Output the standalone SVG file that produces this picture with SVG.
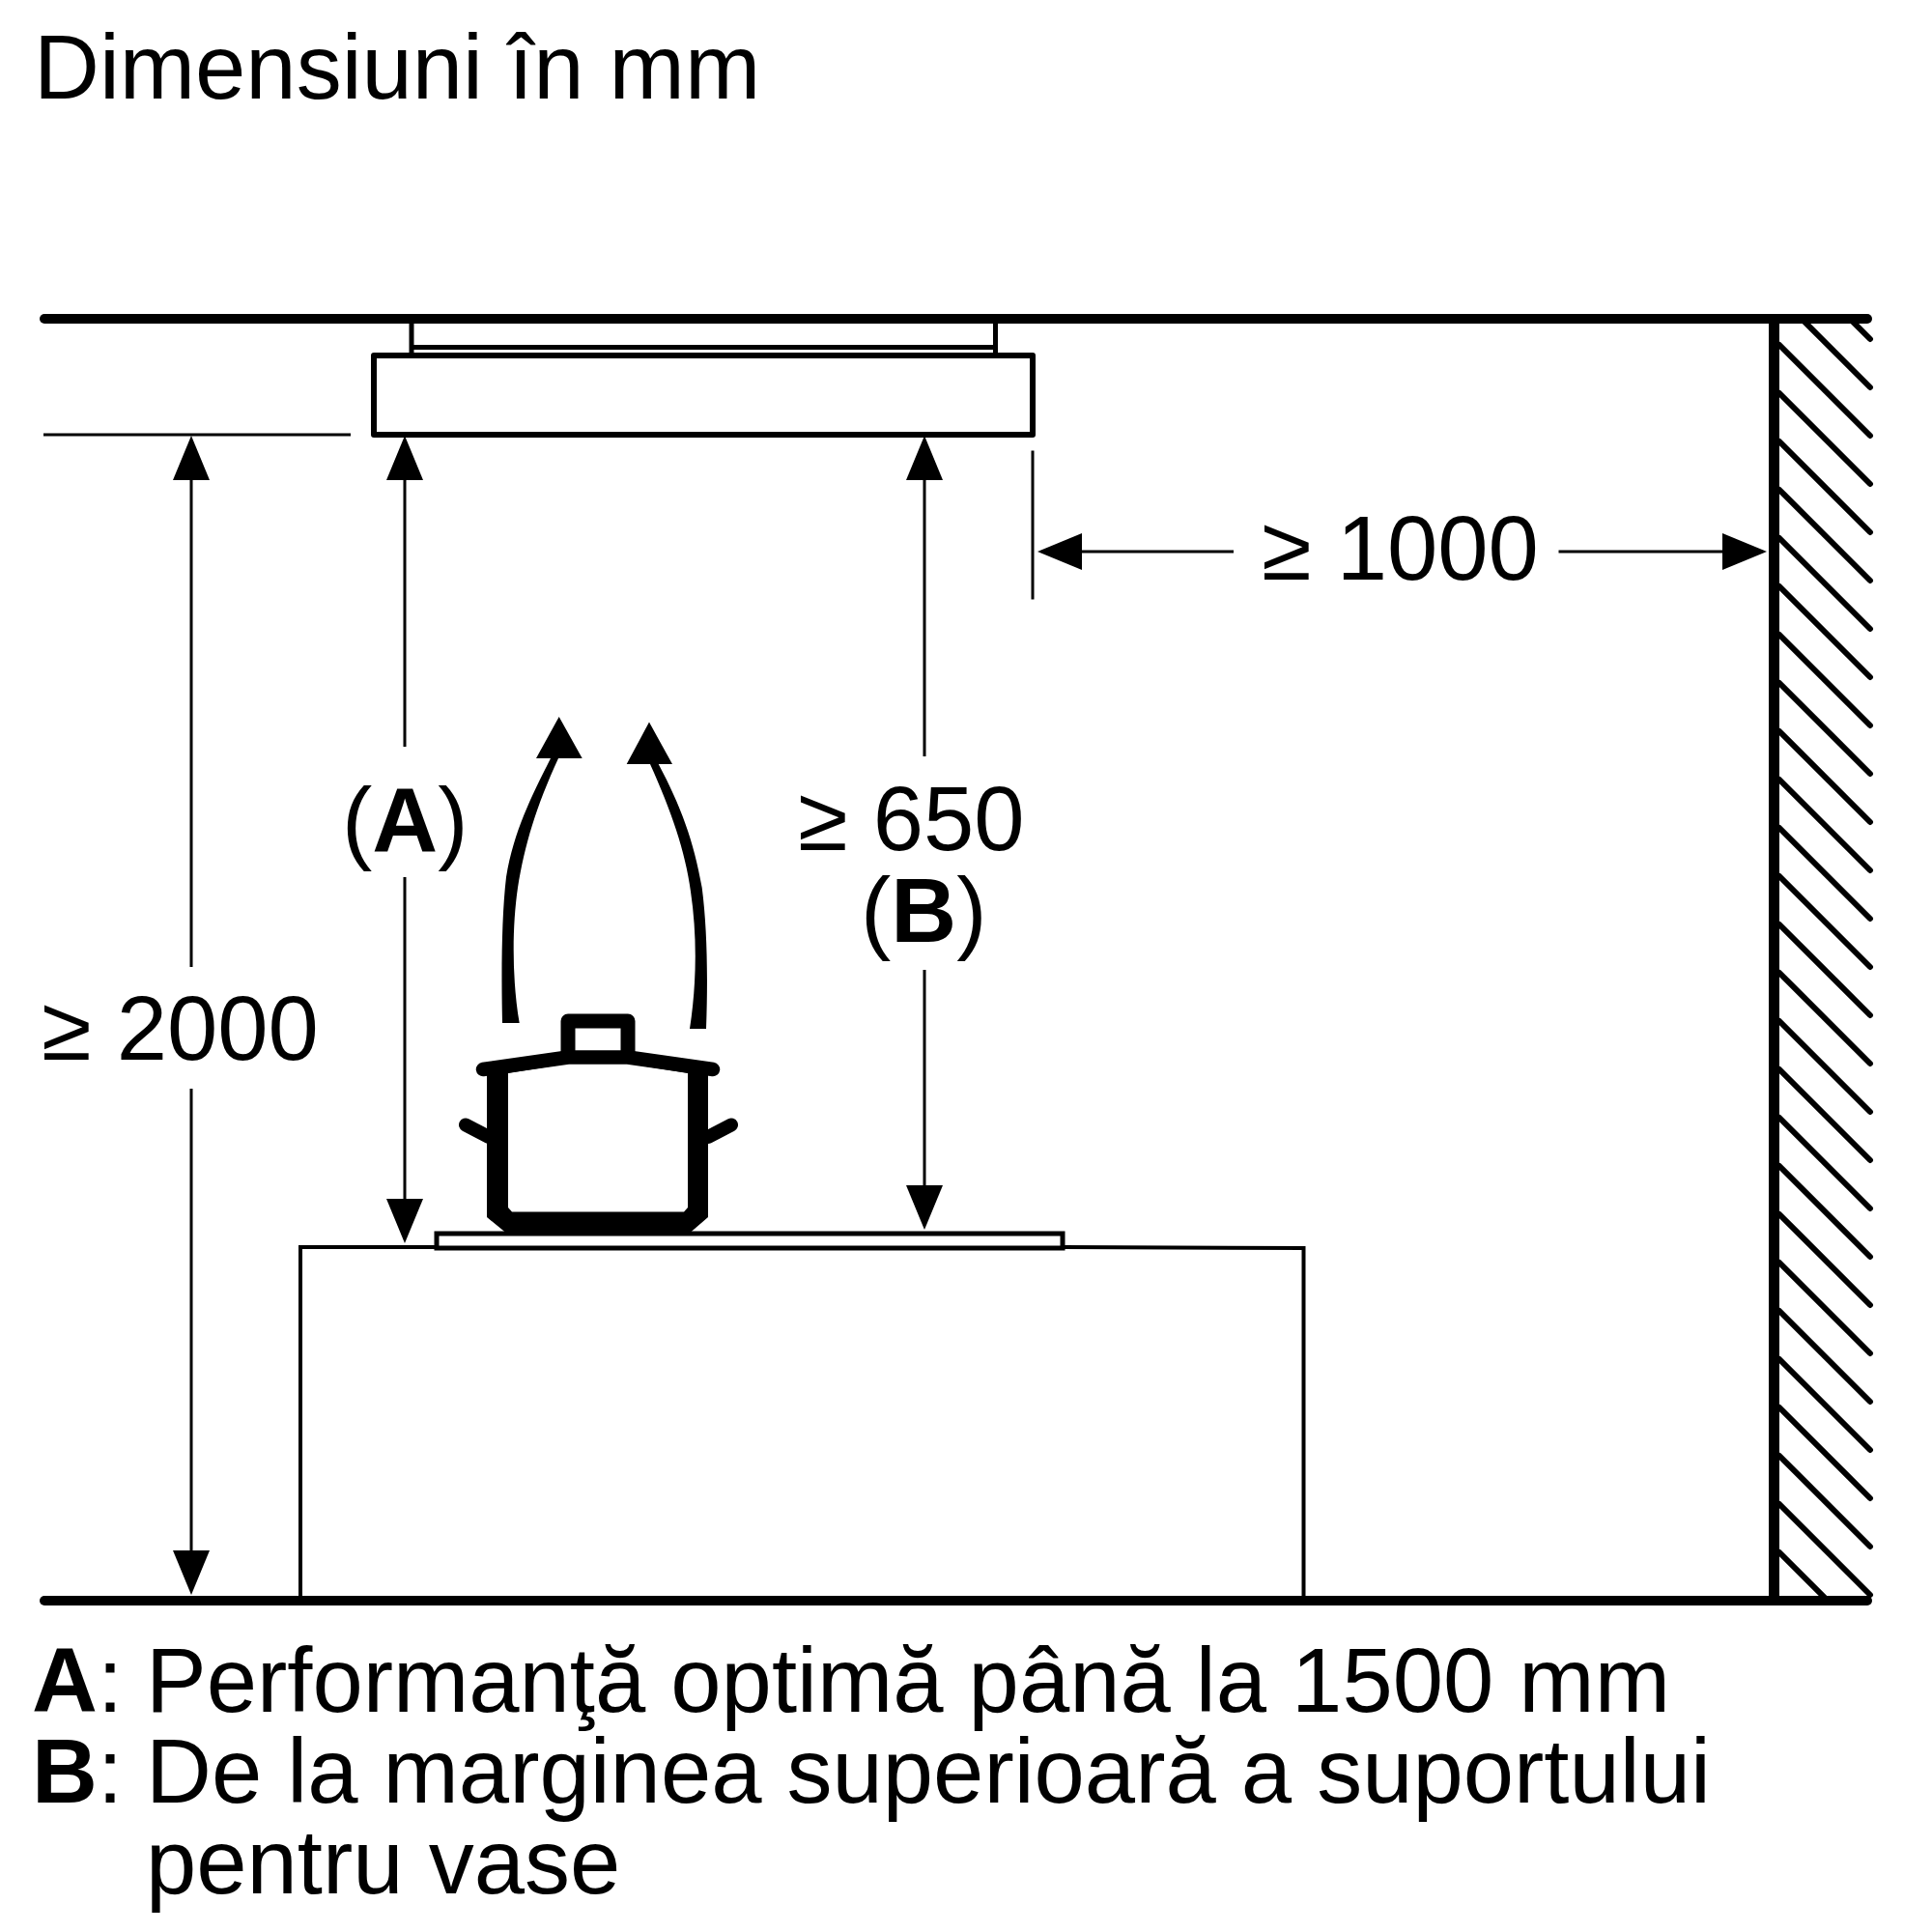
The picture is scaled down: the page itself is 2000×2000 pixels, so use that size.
<svg xmlns="http://www.w3.org/2000/svg" width="2000" height="2000" viewBox="0 0 2000 2000">
<style>
text{font-family:"Liberation Sans",Arial,sans-serif;font-size:94px;fill:#000}
.b{font-weight:700}
.thick{fill:none;stroke:#000;stroke-width:10;stroke-linecap:round}
.hood{fill:none;stroke:#000;stroke-width:6;stroke-linejoin:round}
.hatch{stroke:#000;stroke-width:6;stroke-linecap:round}
.dim{stroke:#000;stroke-width:3;fill:none}
</style>
<defs>
<marker id="ah" markerUnits="userSpaceOnUse" markerWidth="46" markerHeight="38" refX="0" refY="19" orient="auto" overflow="visible"><path d="M0 0L46 19L0 38Z" fill="#000"/></marker>
<clipPath id="wallclip"><rect x="1842" y="330" width="100" height="1327"/></clipPath>
</defs>
<rect width="2000" height="2000" fill="#fff"/>
<text id="title" x="35" y="102">Dimensiuni în mm</text>
<g id="wall">
<g clip-path="url(#wallclip)" id="hatching">
<path class="hatch" d="M1842 257L1936 351M1842 307L1936 401M1842 357L1936 451M1842 407L1936 501M1842 457L1936 551M1842 507L1936 601M1842 557L1936 651M1842 607L1936 701M1842 657L1936 751M1842 707L1936 801M1842 757L1936 851M1842 807L1936 901M1842 857L1936 951M1842 907L1936 1001M1842 957L1936 1051M1842 1007L1936 1101M1842 1057L1936 1151M1842 1107L1936 1201M1842 1157L1936 1251M1842 1207L1936 1301M1842 1257L1936 1351M1842 1307L1936 1401M1842 1357L1936 1451M1842 1407L1936 1501M1842 1457L1936 1551M1842 1507L1936 1601M1842 1557L1936 1651M1842 1607L1936 1701"/>
</g>
<rect x="1831" y="330" width="11" height="1327" fill="#000"/>
</g>
<path id="ceiling" class="thick" d="M46 330H1933"/>
<path id="floor" class="thick" d="M46 1657H1933"/>
<g id="hood">
<path class="hood" d="M426 333V368M1030.500 333V368M426 359.500H1030.500" style="stroke-width:5"/>
<rect class="hood" x="387" y="368" width="682" height="82"/>
</g>
<g id="cabinet">
<path d="M311 1657V1291L450 1291M1101 1291L1349.500 1292V1657" fill="none" stroke="#000" stroke-width="4"/>
<rect x="452" y="1277" width="648" height="15" fill="#fff" stroke="#000" stroke-width="5"/>
</g>
<g id="pot">
<path fill-rule="evenodd" d="M504 1107L588 1094H650L733 1107V1260L715 1275.500H523L504 1260ZM526 1111V1250L530 1254.500H708L712 1250V1111L650 1101H588Z" fill="#000"/>
<path d="M500 1107L588 1094.500H650L738 1107" fill="none" stroke="#000" stroke-width="14.500" stroke-linecap="round" stroke-linejoin="round"/>
<path d="M588 1094V1057H650V1094" fill="none" stroke="#000" stroke-width="15" stroke-linejoin="round"/>
<path d="M482 1164.500L506 1177M757 1164.500L733 1177" fill="none" stroke="#000" stroke-width="14" stroke-linecap="round"/>
</g>
<g id="steam">
<path d="M520 1059C519 1010 519 950 524 908C532 860 550 825 570 785H555L578.700 742L602.700 785H578C555 835 543 875 536 919C530 960 530 1015 537.700 1059Z" fill="#000"/>
<path d="M731 1065C733 1010 732 960 726.700 919C718 870 705 835 681.700 791H696L672 747.600L648.700 791H673C695 840 709 880 715 923C722 970 721 1020 714 1065Z" fill="#000"/>
</g>
<g id="connectors">
<path class="dim" d="M45 450H363"/>
<path class="dim" d="M1069 466.500V620.500"/>
<path class="dim" marker-end="url(#ah)" d="M198 1001V497"/>
<path class="dim" marker-end="url(#ah)" d="M198 1127V1605"/>
<path class="dim" marker-end="url(#ah)" d="M419 773V497"/>
<path class="dim" marker-end="url(#ah)" d="M419 908V1241"/>
<path class="dim" marker-end="url(#ah)" d="M957 783V497"/>
<path class="dim" marker-end="url(#ah)" d="M957 1004V1227"/>
<path class="dim" marker-end="url(#ah)" d="M1277 571H1120"/>
<path class="dim" marker-end="url(#ah)" d="M1613.500 571H1783"/>
</g>
<g id="labels">
<text x="1306" y="600">≥ 1000</text>
<text x="43" y="1097">≥ 2000</text>
<text x="354" y="882">(<tspan class="b">A</tspan>)</text>
<text x="826" y="880">≥ 650</text>
<text x="891" y="975">(<tspan class="b">B</tspan>)</text>
</g>
<g id="legend">
<text x="33" y="1772"><tspan class="b">A</tspan>:</text>
<text x="151" y="1772">Performanţă optimă până la 1500 mm</text>
<text x="33" y="1866"><tspan class="b">B</tspan>:</text>
<text x="151" y="1866">De la marginea superioară a suportului</text>
<text x="151" y="1960">pentru vase</text>
</g>
</svg>
